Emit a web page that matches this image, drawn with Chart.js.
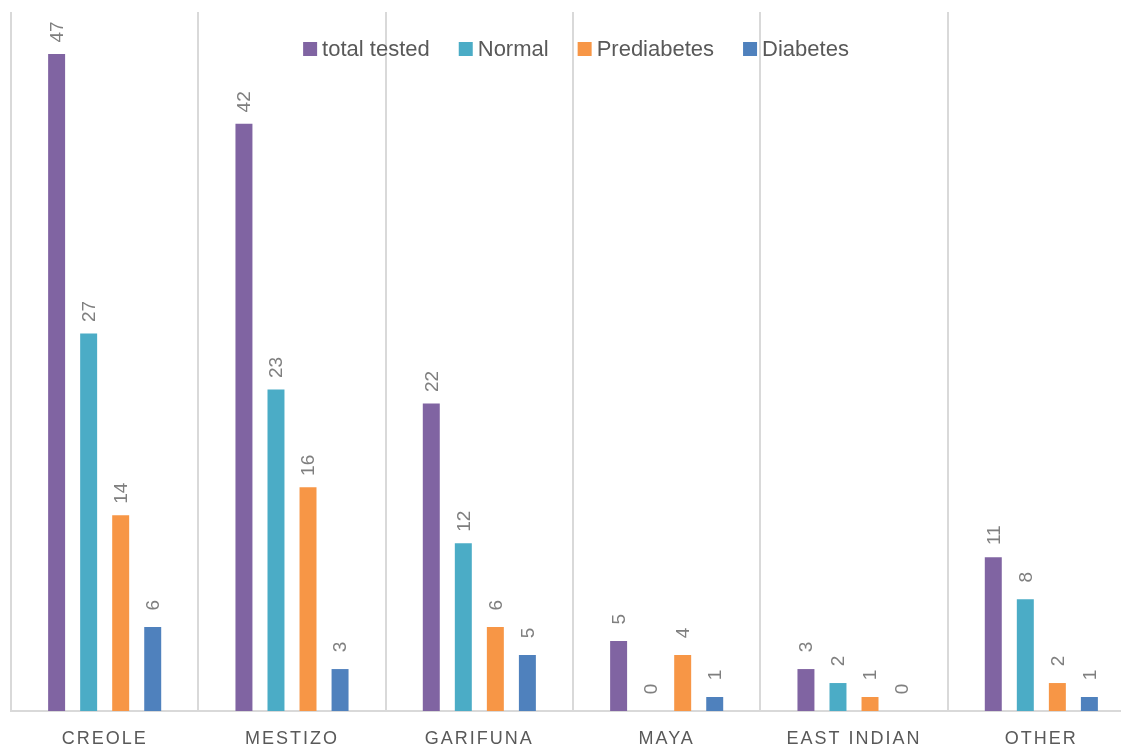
<!DOCTYPE html>
<html>
<head>
<meta charset="utf-8">
<script src="https://cdn.jsdelivr.net/npm/chart.js@4"></script>
<style>
  body { margin: 0; overflow: hidden; background: #fff; }
  #wrap { width: 1135px; height: 746px; }
</style>
</head>
<body>
<div id="wrap"><canvas id="myChart" width="1135" height="746"></canvas></div>
<script>
// datos del grafico
const grupos = ['CREOLE', 'MESTIZO', 'GARIFUNA', 'MAYA', 'EAST INDIAN', 'OTHER'];
const totalTested = [47, 42, 22, 5, 3, 11];
const normal = [27, 23, 12, 0, 2, 8];
const prediabetes = [14, 16, 6, 4, 1, 2];
// la barra de garifuna se ve a la altura de 4 pero la etiqueta dice 5
const diabetes = [6, 3, 4, 1, 0, 1];
const diabetesEtiquetas = ['6', '3', '5', '1', '0', '1'];

// colores
const purpleColor = '#8064A2';
const tealColor = '#4BACC6';
const orangeColor = '#F79646';
const blueColor = '#4F81BD';

const fontName = '"Liberation Sans", Arial, sans-serif';

// etiquetas giradas encima de cada barra
const valueLabels = {
    id: 'valueLabels',
    afterDatasetsDraw(chart) {
        const ctx = chart.ctx;
        ctx.save();
        ctx.font = '19px ' + fontName;
        ctx.fillStyle = '#7f7f7f';
        ctx.textAlign = 'center';
        ctx.textBaseline = 'middle';
        chart.data.datasets.forEach((ds, i) => {
            const meta = chart.getDatasetMeta(i);
            meta.data.forEach((bar, j) => {
                const txt = ds.etiquetas ? ds.etiquetas[j] : String(ds.data[j]);
                ctx.save();
                ctx.translate(bar.x, bar.y - 22);
                ctx.rotate(-Math.PI / 2);
                ctx.fillText(txt, 0, 1);
                ctx.restore();
            });
        });
        ctx.restore();
    }
};

// leyenda dibujada dentro del area del grafico
const overlayLegend = {
    id: 'overlayLegend',
    afterDraw(chart) {
        const ctx = chart.ctx;
        const box = 14, gapText = 5, gapItem = 29;
        ctx.save();
        ctx.font = '22px ' + fontName;
        ctx.textBaseline = 'middle';
        ctx.textAlign = 'left';
        const items = chart.data.datasets.map(ds => ({
            text: ds.label,
            color: ds.backgroundColor,
            w: box + gapText + ctx.measureText(ds.label).width
        }));
        const total = items.reduce((s, it) => s + it.w, 0) + gapItem * (items.length - 1);
        let x = 576 - total / 2;
        const y = 49;
        items.forEach(it => {
            ctx.fillStyle = it.color;
            ctx.fillRect(x, y - box / 2, box, box);
            ctx.fillStyle = '#595959';
            ctx.fillText(it.text, x + box + gapText, y + 1);
            x += it.w + gapItem;
        });
        ctx.restore();
    }
};

// espaciado de letras para las etiquetas del eje x
const tickSpacing = {
    id: 'tickSpacing',
    beforeDraw(chart) { chart.ctx.letterSpacing = '2px'; },
    beforeDatasetsDraw(chart) { chart.ctx.letterSpacing = '0px'; }
};

const ctx = document.getElementById('myChart');

const myChart = new Chart(ctx, {
    type: 'bar',
    data: {
        labels: grupos,
        datasets: [
            { label: 'total tested', data: totalTested, backgroundColor: purpleColor },
            { label: 'Normal', data: normal, backgroundColor: tealColor },
            { label: 'Prediabetes', data: prediabetes, backgroundColor: orangeColor },
            { label: 'Diabetes', data: diabetes, etiquetas: diabetesEtiquetas, backgroundColor: blueColor }
        ]
    },
    options: {
        responsive: false,
        animation: false,
        categoryPercentage: 0.684,
        barPercentage: 0.53,
        layout: { padding: { left: 11, top: 12, right: 0, bottom: 0 } },
        plugins: {
            legend: { display: false },
            tooltip: { enabled: false }
        },
        scales: {
            x: {
                afterFit(scale) { scale.height = 35; },
                grid: {
                    offset: true,
                    color: '#d9d9d9',
                    lineWidth: 2,
                    drawTicks: false
                },
                border: { color: '#d9d9d9', width: 2 },
                ticks: {
                    color: '#595959',
                    font: { family: fontName, size: 18 },
                    padding: 17
                }
            },
            y: {
                display: false,
                min: 0,
                max: 50
            }
        }
    },
    plugins: [valueLabels, overlayLegend, tickSpacing]
});
</script>
</body>
</html>
